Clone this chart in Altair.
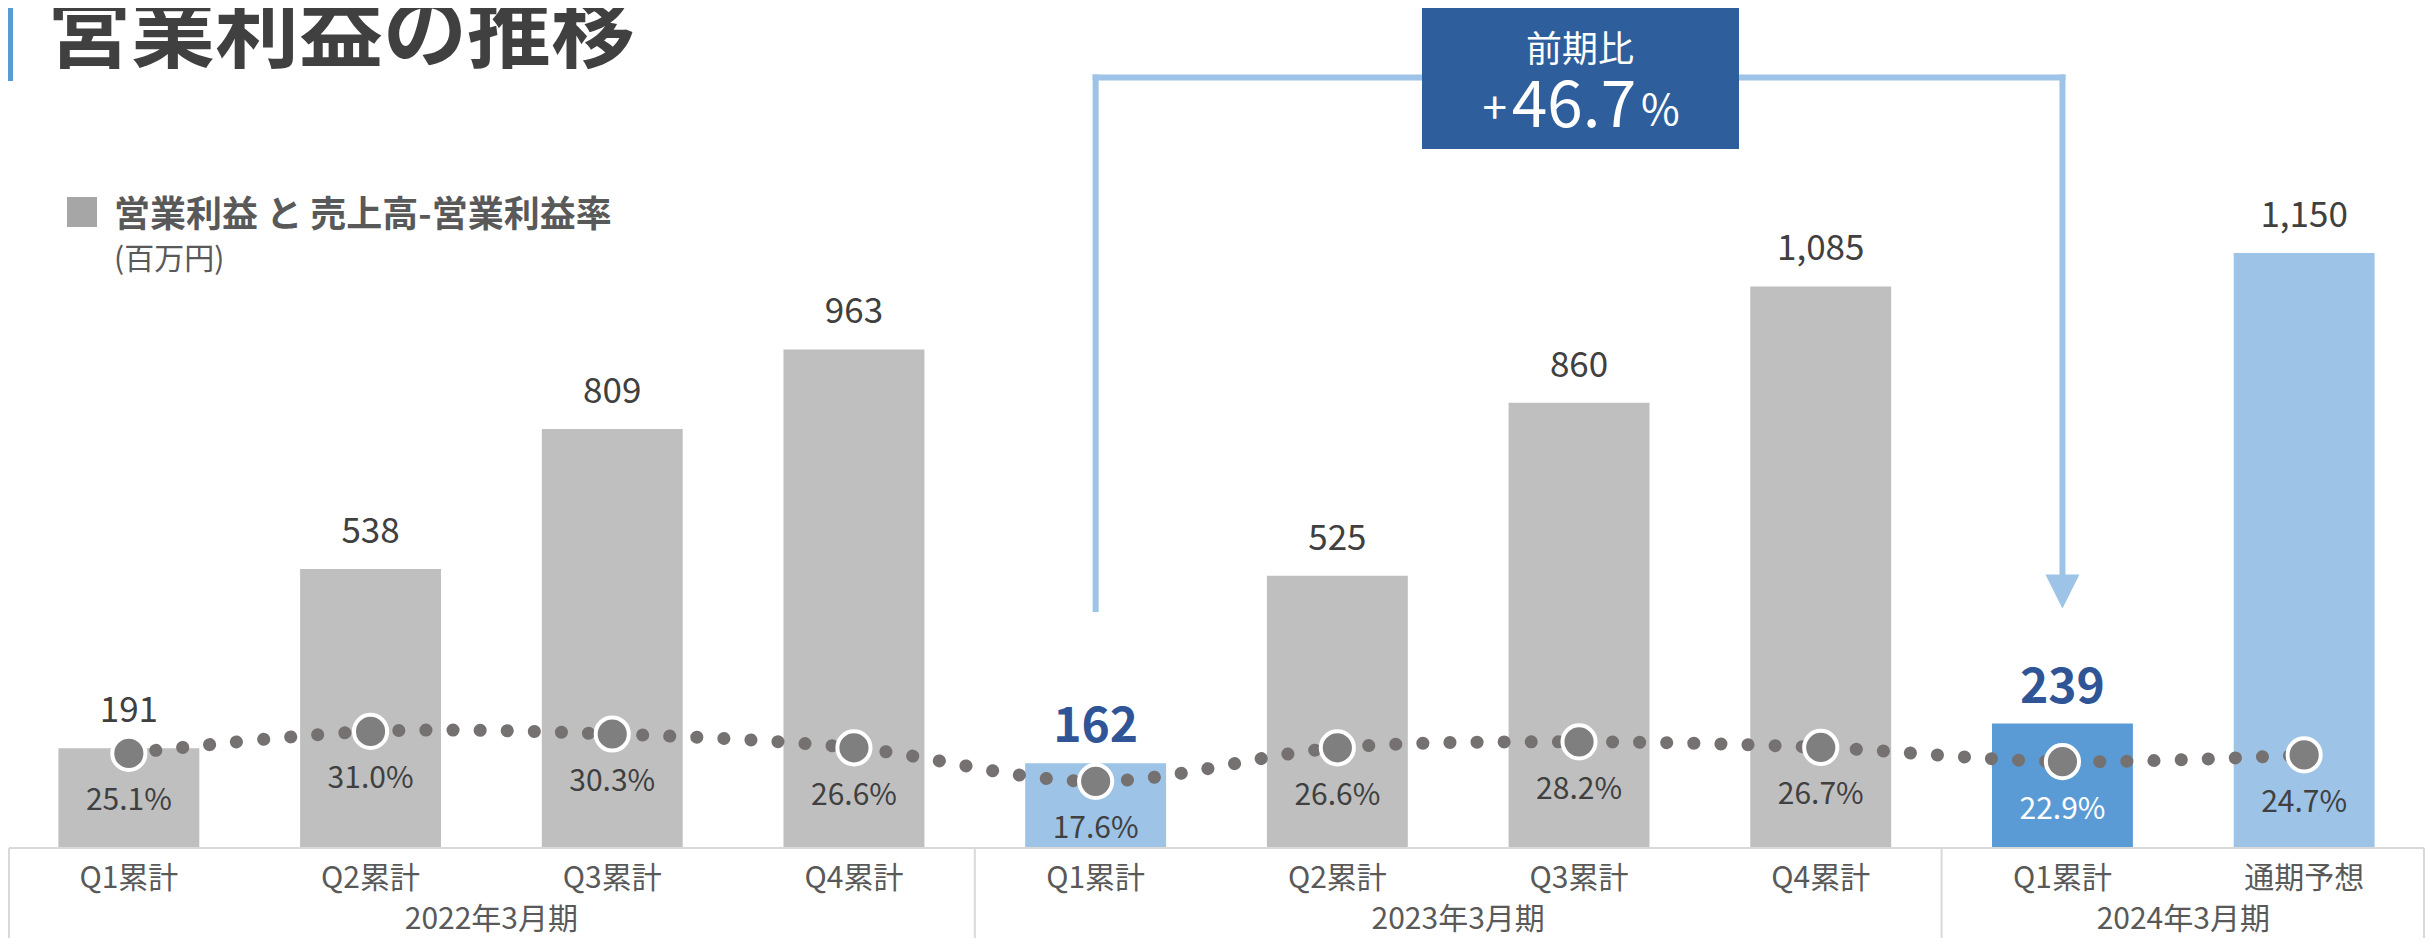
import altair as alt
import pandas as pd

# ---------------- data ----------------
KEYS = ["FY22Q1", "FY22Q2", "FY22Q3", "FY22Q4", "FY23Q1", "FY23Q2", "FY23Q3", "FY23Q4", "FY24Q1", "FY24F"]
CATEGORIES = ["Q1累計", "Q2累計", "Q3累計", "Q4累計", "Q1累計", "Q2累計", "Q3累計", "Q4累計", "Q1累計", "通期予想"]
OPERATING_PROFIT = [191, 538, 809, 963, 162, 525, 860, 1085, 239, 1150]
MARGIN_PCT = [25.1, 31.0, 30.3, 26.6, 17.6, 26.6, 28.2, 26.7, 22.9, 24.7]
GROUP = ["past", "past", "past", "past", "prev", "past", "past", "past", "current", "forecast"]
YEARS = ["2022年3月期", "2023年3月期", "2024年3月期"]
YEAR_FIRST = [0, 4, 8]
YEAR_LAST = [3, 7, 9]
TITLE = "営業利益の推移"
LEGEND = "営業利益 と 売上高-営業利益率"
UNIT = "(百万円)"
CALLOUT_HEAD = "前期比"
CALLOUT_VALUE = "46.7"

# ---------------- layout / style ----------------
FONT = "Noto Sans CJK JP"
W, H, PAD_B = 2417, 839, 91
N = len(KEYS)
STEP = W / N
GREY, LIGHT, BLUE = "#bfbfbf", "#9dc3e6", "#5b9bd5"
DARK_BLUE_TXT = "#2f5597"
BOX = "#2e5f9c"
TXT = "#404040"
TXT2 = "#595959"
FRAME = "#d9d9d9"

df = pd.DataFrame({"key": KEYS, "cat": CATEGORIES, "profit": OPERATING_PROFIT,
                   "margin": MARGIN_PCT, "group": GROUP})
df["margin_label"] = [f"{m:.1f}%" for m in MARGIN_PCT]

xscale = alt.Scale(domain=KEYS, paddingInner=0.417, paddingOuter=0.2085)
X = alt.X("key:N", scale=xscale, axis=None)
Yp = alt.Y("profit:Q", scale=alt.Scale(domain=[0, 1624]), axis=None)
Ym = alt.Y("margin:Q", scale=alt.Scale(domain=[0, 225]), axis=None)

one = pd.DataFrame({"a": [0]})
layers = []

# bars
layers.append(alt.Chart(df).mark_bar().encode(
    X, Yp,
    color=alt.Color("group:N", legend=None,
                    scale=alt.Scale(domain=["past", "prev", "current", "forecast"],
                                    range=[GREY, LIGHT, BLUE, LIGHT]))))

# table frame
layers.append(alt.Chart(one).mark_rule(color=FRAME, strokeWidth=2).encode(
    x=alt.value(1), x2=alt.value(W - 1), y=alt.value(840)))
for px in [1, STEP * 4, STEP * 8, W - 1]:
    layers.append(alt.Chart(one).mark_rule(color=FRAME, strokeWidth=2).encode(
        x=alt.value(px), y=alt.value(840), y2=alt.value(930)))

# value labels
layers.append(alt.Chart(df).transform_filter(
    "datum.group == 'past' || datum.group == 'forecast'").mark_text(
    font=FONT, fontSize=35, color=TXT, baseline="alphabetic", dy=-26).encode(
    X, Yp, text=alt.Text("profit:Q", format=",")))
layers.append(alt.Chart(df).transform_filter(
    "datum.group == 'prev' || datum.group == 'current'").mark_text(
    font=FONT, fontSize=48, fontWeight="bold", color=DARK_BLUE_TXT,
    baseline="alphabetic", dy=-21).encode(
    X, Yp, text=alt.Text("profit:Q", format=",")))

# margin line (dotted, smoothed)
layers.append(alt.Chart(df).mark_line(
    color="#767171", strokeWidth=13, strokeDash=[0.1, 27], strokeCap="round",
    interpolate="catmull-rom").encode(X, Ym))
layers.append(alt.Chart(df).mark_circle(
    size=1100, color="#7f7f7f", opacity=1, stroke="white", strokeWidth=4).encode(X, Ym))
layers.append(alt.Chart(df).mark_text(
    font=FONT, fontSize=30, baseline="alphabetic", dy=57).encode(
    X, Ym, text="margin_label:N",
    color=alt.condition("datum.group == 'current'", alt.value("white"), alt.value(TXT))))

# category labels
layers.append(alt.Chart(df).mark_text(
    font=FONT, fontSize=30, color=TXT2, baseline="alphabetic").encode(
    X, y=alt.value(880), text="cat:N"))
for name, a, b in zip(YEARS, YEAR_FIRST, YEAR_LAST):
    layers.append(alt.Chart(one).mark_text(
        font=FONT, fontSize=30, color=TXT2, baseline="alphabetic").encode(
        x=alt.value((a + b + 1) / 2 * STEP), y=alt.value(921), text=alt.value(name)))

# callout bracket
ann = pd.DataFrame({"from": [KEYS[4]], "to": [KEYS[8]]})
layers.append(alt.Chart(ann).mark_rule(color=LIGHT, strokeWidth=6, strokeCap="square").encode(
    x=alt.X("from:N", scale=xscale, axis=None), y=alt.value(69.5), y2=alt.value(601)))
layers.append(alt.Chart(ann).mark_rule(color=LIGHT, strokeWidth=6, strokeCap="square").encode(
    x=alt.X("to:N", scale=xscale, axis=None), y=alt.value(69.5), y2=alt.value(568)))
layers.append(alt.Chart(ann).mark_rule(color=LIGHT, strokeWidth=6, strokeCap="square").encode(
    x=alt.X("from:N", scale=xscale, axis=None), x2=alt.X2("to:N"), y=alt.value(69.5)))
layers.append(alt.Chart(ann).mark_point(
    shape="M-1,-1L1,-1L0,1Z", filled=True, size=1156, color=LIGHT, opacity=1).encode(
    x=alt.X("to:N", scale=xscale, axis=None), y=alt.value(583.5)))

# callout box
layers.append(alt.Chart(one).mark_rect(color=BOX).encode(
    x=alt.value(1414), x2=alt.value(1731), y=alt.value(0), y2=alt.value(141)))
layers.append(alt.Chart(one).mark_text(
    font=FONT, fontSize=36, color="white", baseline="alphabetic").encode(
    x=alt.value(1572), y=alt.value(54), text=alt.value(CALLOUT_HEAD)))
layers.append(alt.Chart(one).mark_text(
    font=FONT, fontSize=64, color="white", baseline="alphabetic").encode(
    x=alt.value(1566), y=alt.value(119), text=alt.value(CALLOUT_VALUE)))
layers.append(alt.Chart(one).mark_text(
    font=FONT, fontSize=44, color="white", baseline="alphabetic", align="right").encode(
    x=alt.value(1499), y=alt.value(116), text=alt.value("+")))
layers.append(alt.Chart(one).mark_text(
    font=FONT, fontSize=42, color="white", baseline="alphabetic", align="left").encode(
    x=alt.value(1633), y=alt.value(117), text=alt.value("%")))

# title
layers.append(alt.Chart(one).mark_rect(color=BLUE).encode(
    x=alt.value(0), x2=alt.value(5), y=alt.value(0), y2=alt.value(73)))
layers.append(alt.Chart(one).mark_text(
    font=FONT, fontSize=84, fontWeight="bold", color=TXT, baseline="alphabetic", align="left").encode(
    x=alt.value(39), y=alt.value(53), text=alt.value(TITLE)))

# legend
layers.append(alt.Chart(one).mark_rect(color="#a6a6a6").encode(
    x=alt.value(59), x2=alt.value(89), y=alt.value(189), y2=alt.value(219)))
layers.append(alt.Chart(one).mark_text(
    font=FONT, fontSize=36, fontWeight="bold", color=TXT2, baseline="alphabetic", align="left").encode(
    x=alt.value(106), y=alt.value(219), text=alt.value(LEGEND)))
layers.append(alt.Chart(one).mark_text(
    font=FONT, fontSize=30, color=TXT2, baseline="alphabetic", align="left").encode(
    x=alt.value(106), y=alt.value(261), text=alt.value(UNIT)))

chart = alt.layer(*layers).resolve_scale(y="independent").properties(
    width=W, height=H,
    padding={"left": 0, "top": 0, "right": 0, "bottom": PAD_B},
    autosize=alt.AutoSizeParams(type="none"),
).configure_view(stroke=None)

chart.save("out.html", embed_options={"renderer": "svg", "actions": False})
